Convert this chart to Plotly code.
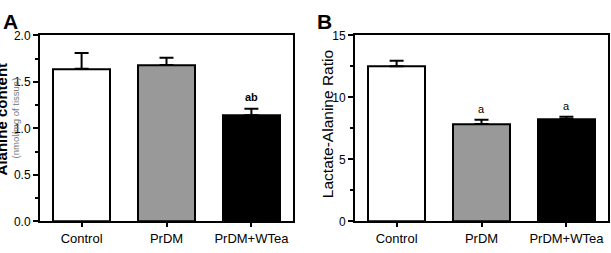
import plotly.graph_objects as go

categories = ["Control", "PrDM", "PrDM+WTea"]
alanine = [1.64, 1.68, 1.14]
alanine_err = [0.17, 0.08, 0.07]
alanine_sig = ["", "", "ab"]
ratio = [12.5, 7.85, 8.25]
ratio_err = [0.45, 0.35, 0.18]
ratio_sig = ["", "a", "a"]
colors = ["white", "#999999", "black"]
y1_ticks = [0.0, 0.5, 1.0, 1.5, 2.0]
y1_labels = ["0.0", "0.5", "1.0", "1.5", "2.0"]
y2_ticks = [0, 5, 10, 15]

W, H = 611, 253
FONT = "Liberation Sans, Arial, sans-serif"

fig = go.Figure()

def add_panel(vals, errs, xa, ya):
    fig.add_trace(go.Bar(
        x=categories, y=vals, xaxis=xa, yaxis=ya, width=0.67,
        marker=dict(color=colors, line=dict(color="black", width=2)),
        error_y=dict(type="data", symmetric=False, array=errs,
                     arrayminus=[0] * len(errs), color="black",
                     thickness=2, width=7),
        showlegend=False,
    ))

add_panel(alanine, alanine_err, "x", "y")
add_panel(ratio, ratio_err, "x2", "y2")

ann = []
for c, v, e, s in zip(categories, alanine, alanine_err, alanine_sig):
    if s:
        ann.append(dict(x=c, y=v + e, xref="x", yref="y", text="<b>" + s + "</b>",
                        showarrow=False, yanchor="bottom", yshift=4,
                        font=dict(size=11, color="black", family=FONT)))
for c, v, e, s in zip(categories, ratio, ratio_err, ratio_sig):
    if s:
        ann.append(dict(x=c, y=v + e, xref="x2", yref="y2", text=s,
                        showarrow=False, yanchor="bottom", yshift=3,
                        font=dict(size=11, color="black", family=FONT)))

ann += [
    dict(x=10 / W, y=1 - 15 / H, xref="paper", yref="paper", text="<b>A</b>",
         xanchor="center", yanchor="middle",
         showarrow=False, font=dict(size=21, color="black", family=FONT)),
    dict(x=324 / W, y=1 - 15 / H, xref="paper", yref="paper", text="<b>B</b>",
         xanchor="center", yanchor="middle",
         showarrow=False, font=dict(size=21, color="black", family=FONT)),
    dict(x=1 / W, y=1 - 119 / H, xref="paper", yref="paper", text="<b>Alanine content</b>",
         xanchor="center", yanchor="middle",
         textangle=-90, showarrow=False, font=dict(size=15, color="black", family=FONT)),
    dict(x=15 / W, y=1 - 118 / H, xref="paper", yref="paper", text="(nmol/mg of tissue)",
         xanchor="center", yanchor="middle",
         textangle=-90, showarrow=False, font=dict(size=9.5, color="#777777", family=FONT)),
    dict(x=327 / W, y=1 - 124 / H, xref="paper", yref="paper", text="Lactate-Alanine Ratio",
         xanchor="center", yanchor="middle",
         textangle=-90, showarrow=False, font=dict(size=15.5, color="black", family=FONT)),
]

xcommon = dict(range=[-0.49, 2.49], showline=True, linecolor="black", linewidth=2,
               mirror=True, ticks="outside", ticklen=4, tickwidth=1.5, tickcolor="black",
               tickfont=dict(size=13, color="black", family=FONT), showgrid=False,
               zeroline=False, fixedrange=True)
ycommon = dict(showline=True, linecolor="black", linewidth=2, mirror=True,
               ticks="outside", ticklen=5, tickwidth=1.5, tickcolor="black",
               tickfont=dict(size=12, color="black", family=FONT), showgrid=False,
               zeroline=False, fixedrange=True)

ybot, ytop = 1 - 227 / H, 1 - 30 / H
minor_common = dict(ticks="outside", ticklen=3, tickwidth=1.5, tickcolor="black")
fig.update_layout(
    width=W, height=H, margin=dict(l=0, r=0, t=0, b=0),
    paper_bgcolor="white", plot_bgcolor="white", bargap=0,
    xaxis=dict(domain=[40 / W, 293 / W], anchor="y", **xcommon),
    xaxis2=dict(domain=[355 / W, 608 / W], anchor="y2", **xcommon),
    yaxis=dict(domain=[ybot, ytop], anchor="x", range=[0, 2], tickvals=y1_ticks,
               ticktext=y1_labels, minor=dict(dtick=0.25, **minor_common), **ycommon),
    yaxis2=dict(domain=[ybot, ytop], anchor="x2", range=[0, 15], tickvals=y2_ticks,
                minor=dict(dtick=2.5, **minor_common), **ycommon),
    annotations=ann,
    font=dict(family=FONT),
)

fig.write_html("out.html")
